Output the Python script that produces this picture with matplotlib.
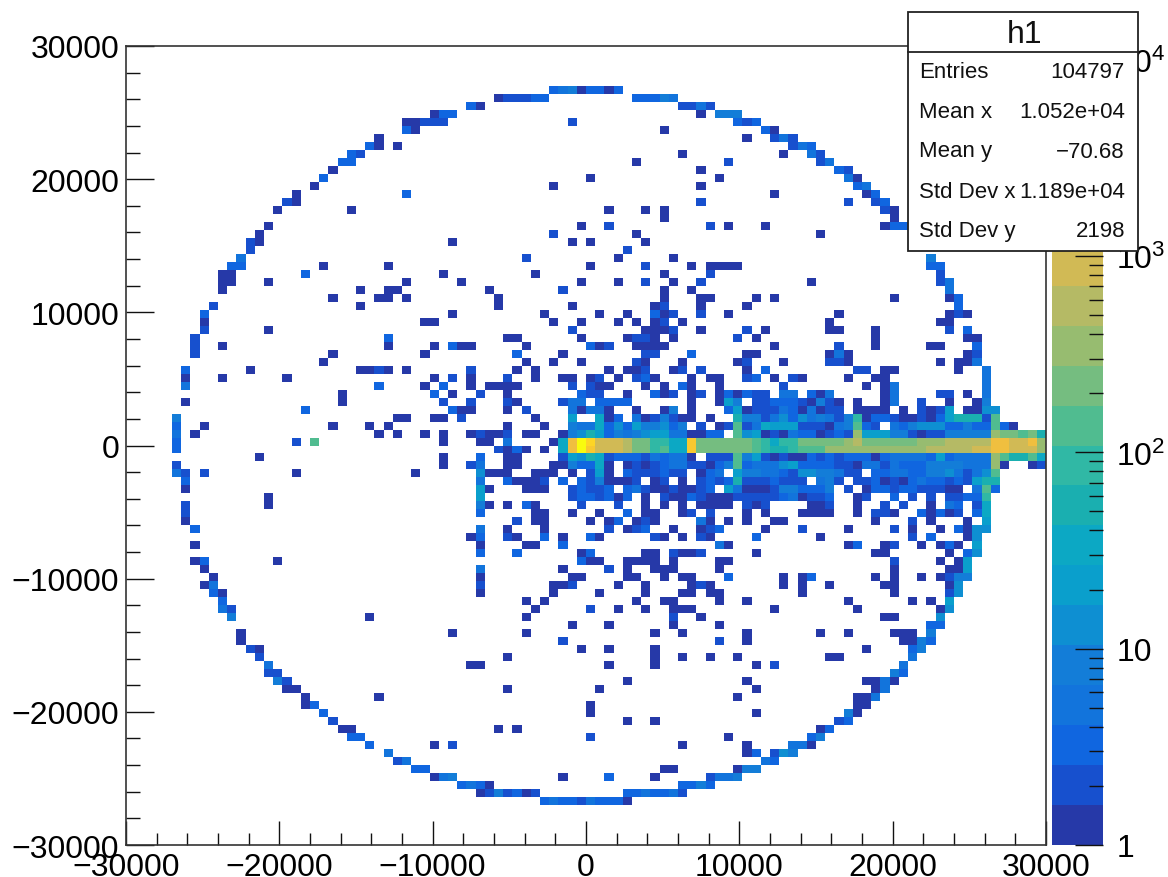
import numpy as np
import matplotlib
matplotlib.use('Agg')
import matplotlib.pyplot as plt
from matplotlib.colors import ListedColormap, BoundaryNorm
from matplotlib.patches import Rectangle

plt.rcParams['font.family'] = ['Liberation Sans', 'DejaVu Sans']
plt.rcParams['mathtext.fontset'] = 'custom'
plt.rcParams['mathtext.rm'] = 'Liberation Sans'

# stats box
stat_names = ['Entries', 'Mean x', 'Mean y', 'Std Dev x', 'Std Dev y']
stat_values = ['104797', '1.052e+04', '\u221270.68', '1.189e+04', '2198']

# 20 contour colours of the palette, bottom to top
band_colors = ['#2639A8', '#1750CE', '#1066E0', '#1274DC', '#137DD8', '#0E8FD2', '#0A9FCC', '#0CA8C4',
               '#1AAFB0', '#30B8A5', '#50BC90', '#75BD80', '#97BC70', '#B5BA65', '#D1BA55', '#F0BF3F',
               '#F8C830', '#FDD525', '#F8E818', '#F9FB0E']
# entries per bin for a cell that falls in each contour band
band_counts = [1, 2, 3, 5, 8, 13, 20, 33, 55, 90, 140, 220, 350, 580, 900, 1500, 2400, 3800, 6000, 10000]

# bins read row by row, row 0 at the top, x bin from the left
# a plain number is a band 1 cell, (bin, band) otherwise
upper_left = {
    6: [40, (41, 2)],
    7: [(37, 3), 38],
    8: [33, (34, 3), (35, 3)],
    9: [30, 31, (32, 2), (33, 2), (34, 2)],
    10: [(30, 3), 31],
    11: [27],
    12: [(26, 3), 27, 29],
    13: [(24, 3), (25, 2)],
    14: [(23, 3), (24, 3)],
    15: [22],
    16: [(21, 3)],
    17: [20],
    18: [18, (30, 3)],
    19: [(17, 2), 18],
    20: [16, 24],
    22: [15],
    23: [14],
    24: [(13, 2), 14, 35],
    25: [(13, 2)],
    26: [(12, 4)],
    27: [(11, 3), (12, 3), 21, 28],
    28: [10, 11, (19, 3), 34],
    29: [10, 11, 15, 30, 36],
    30: [10, 25, 28, 29, 39],
    31: [22, 27, 28, 30, 40],
    32: [(9, 2), 25, 40],
    33: [(8, 3), 35],
    34: [8, 32, 33],
}
upper_mid = {
    5: [(46, 3), (47, 4), (48, 5), 49, (50, 3), (51, 3), 52, (53, 3)],
    6: [(42, 2), (43, 2), (44, 3), (45, 3), (55, 3), (56, 3), (57, 3), (58, 5), (59, 4)],
    7: [(60, 2), (61, 2), (62, 4), (63, 2)],
    8: [62, (64, 5), (65, 5), (66, 5)],
    9: [(48, 2), (66, 3), (67, 2), (68, 3)],
    10: [58, (69, 3), 70],
    11: [67, (70, 2), (71, 4), (72, 2)],
    12: [(72, 2), (73, 4), (74, 3)],
    13: [60, 71, (74, 4), (75, 2)],
    14: [55, (65, 2), (75, 2), (76, 4)],
    15: [62, (77, 3), (78, 2)],
    16: [50, 64, (78, 4), 79],
    17: [46, 62, (79, 3), (80, 4)],
    18: [70, 80, (81, 3)],
    19: [(62, 2), (78, 2), (81, 2), (82, 3)],
    20: [52, 56, 58, (82, 2), 83],
    21: [58, 83],
    22: [49, (52, 2), (63, 2), 65, 69, 82, (83, 3), (84, 3)],
    23: [(46, 2), 55, 75],
    24: [48, 50, 56],
    25: [(54, 2)],
    26: [(43, 2), 53, 59],
    27: [50, (56, 2), 61, 63, 64, 65, 66],
    28: [44, 58, (63, 2)],
    29: [49, 53, (56, 2), 59, (62, 2), 74],
    30: [(47, 2), 58, 61],
    31: [58, 62, 63, 68, 70, 83],
    32: [48, 57, (58, 2), 62, 67],
    33: [45, 51, 54, (57, 3), 58, (59, 2), (62, 2), 65, 77],
    34: [46, 49, 53, 55, 57, (58, 2), 60, 76],
}
left_mid = {
    35: [(8, 2), 15],
    36: [(7, 2), (28, 3), 41],
    37: [(7, 2), 10, 28, 33, (35, 3), 36, 37],
    38: [(7, 2), 22, 32],
    39: [21],
    40: [(6, 3), 13, 25, 26, (27, 2), 28, 30, (37, 2)],
    41: [6, 10, 17, 33, (35, 2), 37, (41, 2)],
    42: [(6, 4), (27, 3), 32, (34, 3), 37, 39, 40, 41],
    43: [23, (33, 3), 35, (38, 2), 41],
    44: [6, 23, (34, 2), (37, 2), (41, 2)],
    45: [(19, 3), (35, 3), 36, 37, 41],
    46: [(5, 5), 29, 30, 33, 34, (36, 2)],
    47: [(5, 3), 8, 22, 26, 28, 41],
    48: [(5, 4), 7, 27, 29, 32, 34, 37, (38, 2), 39, 40, (41, 2)],
    49: [(5, 3), (18, 2), (20, 11), 34, 38, 39, (41, 4)],
    50: [(5, 3), (40, 2), 41],
    51: [14, 34, (38, 3), 41],
    52: [(5, 2), 34, (37, 2), (38, 4), 41],
    53: [(5, 4), (6, 2), (8, 2), 18, 31, (38, 6), 39, 40, 41],
    54: [(6, 3), (38, 4), (41, 3)],
    55: [6, (38, 7), 39],
    56: [15, (38, 7)],
    57: [(6, 2), 15, (38, 5), 39, 41],
    58: [(6, 2), (38, 3)],
    59: [6],
    60: [(7, 3), (38, 4), 41, 45],
    61: [37, (38, 3), (41, 2)],
    62: [7, 38],
    63: [(38, 3)],
    64: [7, (8, 3), 16],
}
core = {
    35: [(48, 2), 56, 57, 58, (59, 2), 62, (67, 2), 69],
    36: [42, 49, 54, (55, 2), (56, 2), 57, 59, (66, 2), 68],
    37: [43, (50, 3), 51, (52, 2), 55, 56, 57, 58, 70],
    38: [(42, 3), 47, (56, 2), (57, 2), (61, 3), 67, 68],
    39: [43, 46, 49, (55, 2), 56, 60, 66, (67, 2), 71],
    40: [42, 44, 52, 54, 55, (56, 2), 59, (60, 2), (62, 2), 67, (69, 3)],
    41: [44, 47, 48, 50, (51, 2), 53, (55, 2), (56, 3), 57, 61, 63, 64, (67, 2), (68, 3), 70],
    42: [42, (48, 2), (50, 2), 51, 52, 56, 58, (60, 3), 61, 64, (71, 2)],
    43: [(49, 3), (50, 2), (51, 2), 54, (57, 3), 58, (59, 2), 61, (62, 2), 64, (65, 3), 66, (67, 3), (68, 2),
         (69, 2), (71, 4)],
    44: [42, (47, 2), (48, 4), (49, 4), (51, 3), (52, 3), (53, 3), (54, 3), 61, 64, (65, 7), (66, 5), (68, 2),
         (69, 2), (70, 3), (71, 5)],
    45: [(43, 2), (48, 4), 49, (50, 4), (51, 4), 52, 55, 58, (59, 5), 61, (65, 3), (66, 7), 67, (68, 2), (69, 2),
         (70, 2), (71, 3)],
    46: [44, (48, 7), (51, 8), 52, (53, 3), (55, 4), 56, (57, 2), (58, 5), (59, 2), 60, 61, 63, (66, 9), (67, 5),
         (68, 5), (69, 2), (70, 4), (71, 4)],
    47: [45, (48, 5), (49, 4), (50, 4), (51, 8), (52, 3), (53, 6), (54, 3), (55, 7), (56, 5), (57, 5), (58, 6),
         (59, 3), (60, 5), (62, 2), 64, (65, 2), (66, 11), (67, 2), (68, 4), (69, 8), (70, 7), (71, 7)],
    48: [43, 44, 47, (48, 5), (49, 6), (50, 9), (51, 7), (52, 3), (53, 5), (54, 4), (55, 5), (56, 6), (57, 7),
         (58, 7), (59, 4), (60, 4), 61, 62, (63, 3), (64, 3), (66, 11), (67, 6), (68, 7), 69, (70, 2), 71],
    49: [46, (47, 8), (48, 16), (49, 20), (50, 18), (51, 15), (52, 15), (53, 15), (54, 14), (55, 12), (56, 12),
         (57, 10), (58, 10), (59, 8), (60, 8), (61, 17), (62, 12), (63, 12), (64, 12), (65, 12), (66, 12), (67, 12),
         (68, 11), (69, 10), (70, 8), (71, 10)],
    50: [(42, 3), 43, 45, (47, 8), (48, 16), (49, 20), (50, 17), (51, 15), (52, 15), (53, 15), (54, 14), (55, 12),
         (56, 12), (57, 10), (58, 11), (59, 8), (60, 8), (61, 17), (62, 12), (63, 12), (64, 12), (65, 12), (66, 12),
         (67, 12), (68, 11), (69, 10), (70, 9), (71, 11)],
    51: [42, (47, 2), (48, 7), (49, 6), (50, 9), (51, 8), (52, 2), (53, 3), (54, 3), (55, 3), (56, 2), (57, 4),
         (58, 3), (59, 4), (60, 4), 61, (63, 2), (64, 2), (65, 2), (66, 11), (67, 5), (68, 7), (69, 2), 70, (71, 2)],
    52: [42, 46, 47, (48, 5), (49, 3), (50, 3), (51, 8), 52, 54, (55, 2), 56, (57, 2), (58, 3), (59, 4), (60, 4),
         (61, 2), (62, 2), 63, (64, 3), (65, 5), (66, 11), (67, 3), (68, 4), (69, 4), (70, 4), (71, 5)],
    53: [44, 45, 46, 48, (50, 2), (51, 7), 52, (54, 3), (55, 2), (56, 2), (57, 2), (58, 3), (59, 2), (60, 2), 62,
         (63, 3), (64, 4), (66, 7), (67, 5), (68, 5), (69, 4), (70, 4), (71, 4)],
    54: [42, 43, 44, (45, 2), (47, 3), (49, 3), (50, 2), (51, 5), 52, 53, 54, (55, 2), 57, (58, 2), 60, (62, 2),
         (63, 3), (64, 2), (65, 3), (66, 9), (67, 2), (68, 2), (69, 2), (70, 3), (71, 3)],
    55: [43, 44, 45, (48, 2), (49, 3), (50, 2), (51, 2), (52, 3), (54, 3), (55, 4), (56, 2), 57, 58, (59, 2), 60,
         61, (62, 2), (63, 3), (65, 7), (66, 4), 67, 68, 69, (70, 2), (71, 2)],
    56: [(48, 2), (49, 3), (50, 3), (51, 2), (52, 3), 53, (54, 3), 56, (58, 2), 59, 60, (61, 3), (62, 2), 63, 64,
         65, (66, 2), (67, 2), (68, 2), (69, 2), (70, 2), (71, 2)],
    57: [(43, 3), 44, (49, 2), (53, 2), 56, 58, 60, 62, 63, 64, 65, (67, 2), 68, (69, 2)],
    58: [44, 45, 48, 51, (54, 3), 56, 57, 60, (61, 2), (63, 2), 67, 69],
    59: [(42, 2), 44, 45, 50, 52, (53, 3), 55, (56, 2), 57, (62, 4), 63, 65, 67, 70, 71],
    60: [45, (52, 2), 54, (55, 2), (56, 3), 59, 62, (63, 2), (64, 3), 69],
    61: [42, (45, 3), 47, (50, 3), 51, (57, 2), 58, 60, (62, 2), 63, (68, 3)],
    62: [43, 44, (47, 3), (64, 4), 65, 78],
    63: [(42, 3), 49, (50, 3)],
    64: [(49, 3), 50, 51],
}
right_side = {
    26: [(87, 5)],
    27: [(87, 3), (88, 3)],
    28: [(88, 2)],
    29: [74, (88, 2), (89, 4)],
    30: [(89, 4)],
    31: [83, 89, (90, 3)],
    32: [(90, 3)],
    33: [77, 89, (90, 2), 91],
    34: [76, 88, 89],
    35: [76, 77, 81, (89, 2), (91, 3)],
    36: [81, 91, 92],
    37: [(77, 2), 81, 87, 88, (92, 3)],
    38: [76, (77, 4), 78, 91, (92, 2)],
    39: [71, (76, 2), (77, 2), 78, 88, 90, 91, (92, 4)],
    40: [(79, 2), (80, 2), 82, 83, 90, (93, 4)],
    41: [(72, 2), 73, 78, 81, 82, (93, 4)],
    42: [(71, 2), 80, 82, (83, 4), (93, 4)],
    43: [(71, 4), (72, 4), (74, 3), 75, (76, 4), 82, (83, 4), (88, 2), (89, 2), 91, (93, 4)],
    44: [(71, 3), (72, 3), (73, 2), 74, (75, 5), (76, 2), 77, 79, 82, (83, 4), (86, 2), 89, 92, (93, 5)],
    45: [(71, 4), (72, 3), 73, (74, 4), 75, (76, 2), (77, 2), 79, 80, 81, 82, 84, (86, 2), 87, (88, 2), (89, 7),
         91, 92, (93, 6), (94, 6)],
    46: [(71, 6), (72, 3), (73, 6), (74, 4), (75, 5), (76, 4), (77, 2), (78, 5), (79, 10), 80, (81, 3), (82, 3),
         (83, 2), 84, 85, (86, 2), 87, (88, 3), (89, 7), (90, 9), (91, 9), (92, 9), (93, 2), (94, 11)],
    47: [(71, 7), (72, 7), (73, 2), (74, 2), (75, 2), 76, (77, 4), (78, 5), (79, 11), (80, 3), (81, 2), (83, 4),
         (84, 3), (85, 5), (86, 6), (87, 6), (88, 6), (89, 3), (90, 3), (91, 5), (92, 3), (93, 3), (94, 11), (95, 3),
         96],
    48: [71, (72, 4), (73, 3), (74, 3), 75, (76, 2), (77, 3), (78, 2), (79, 13), (80, 7), (81, 7), (82, 7), (83, 5),
         (84, 5), (85, 2), 86, (87, 2), (88, 2), (89, 5), (90, 5), (91, 5), (92, 5), (93, 5), (94, 13), (95, 12),
         (96, 12), (97, 11), (98, 12), (99, 9)],
    49: [(71, 10), (72, 10), (73, 12), (74, 12), (75, 12), (76, 12), (77, 12), (78, 13), (79, 14), (80, 12), (81, 12),
         (82, 12), (83, 12), (84, 12), (85, 12), (86, 13), (87, 13), (88, 13), (89, 14), (90, 14), (91, 14), (92, 14),
         (93, 14), (94, 16), (95, 16), (96, 15), (97, 15), (98, 16), (99, 13)],
    50: [(71, 9), (72, 10), (73, 11), (74, 11), (75, 11), (76, 13), (77, 13), (78, 13), (79, 13), (80, 13), (81, 13),
         (82, 13), (83, 13), (84, 13), (85, 13), (86, 13), (87, 14), (88, 14), (89, 14), (90, 14), (91, 14), (92, 15),
         (93, 15), (94, 16), (95, 16), (96, 15), (97, 15), (98, 15), (99, 13)],
    51: [(71, 2), 72, 73, (74, 3), (75, 2), (76, 3), (77, 2), (78, 3), (79, 3), (80, 3), 81, (82, 3), (83, 4), (84, 4),
         (85, 4), (86, 4), (87, 3), (88, 7), (89, 3), (90, 4), (91, 4), (92, 4), (93, 4), (94, 13), (95, 11), (96, 9),
         (97, 9), (98, 11), (99, 8)],
    52: [(71, 6), (72, 7), (73, 3), (74, 3), (75, 3), (76, 3), (77, 2), (78, 2), 79, (80, 4), (81, 4), (82, 2), (83, 4),
         (84, 3), (85, 3), (86, 3), (87, 5), (88, 5), (89, 5), (90, 5), (91, 4), (92, 4), (93, 4), (94, 13), 95, 98,
         (99, 2)],
    53: [(71, 3), (72, 2), (73, 6), (74, 6), (75, 5), (76, 5), (77, 4), (78, 2), (79, 2), (81, 3), (82, 3), (83, 4),
         (84, 4), (85, 3), (86, 3), (87, 5), (88, 5), (89, 6), (90, 4), (91, 2), (92, 4), (93, 6), (94, 11)],
    54: [(71, 2), (72, 2), (73, 2), (75, 4), (76, 5), (77, 2), (79, 2), (80, 2), (81, 3), 82, (83, 2), 84, (85, 3),
         (86, 4), (87, 3), (88, 3), (89, 2), (90, 3), (91, 2), (92, 7), (93, 9), (94, 9)],
    55: [(71, 5), (72, 5), (73, 3), (74, 3), (75, 3), (76, 5), (78, 2), 80, (81, 3), (82, 3), (83, 2), (84, 3), (85, 3),
         (86, 2), (87, 2), (88, 2), 89, 90, (92, 4), (93, 11), (94, 3)],
    56: [(71, 3), (72, 4), 73, (74, 2), (75, 2), (76, 3), 79, (80, 2), (83, 3), (85, 2), (87, 2), (89, 2), (90, 2),
         (91, 3), (92, 3), (93, 10)],
    57: [74, 75, (76, 2), 79, (82, 2), (84, 2), 87, (89, 4), (90, 3), (92, 2), (93, 8)],
    58: [73, 74, 75, 76, 79, (81, 2), (82, 2), 83, (86, 3), 87, (88, 3), 89, (90, 2), (92, 3), (93, 8)],
    59: [71, 81, (85, 2), 87, 91, (93, 7)],
    60: [(73, 2), 78, (83, 2), 85, 88, (90, 3), 91, (92, 6), (93, 6)],
    61: [75, (85, 2), (87, 3), 91, (92, 6)],
    62: [79, 82, (83, 2), 86, 88, (89, 3), 90, (92, 7)],
}
lower_left = {
    64: [(49, 3)],
    65: [8, (38, 4), 47],
    66: [9, 38, 48, 49],
    67: [8, (9, 4), (38, 2), 46, 47, (48, 2)],
    68: [(9, 3), 10, 38, 46],
    69: [(10, 3), 43, 45],
    70: [(10, 4), (11, 2), 44],
    71: [(11, 5), 26, 43],
    72: [48],
    73: [12, 35, 43],
    74: [12, (47, 2)],
    75: [(13, 2), 14, 49],
    76: [(14, 2), 41],
    77: [(15, 4), 37, 38],
    78: [(15, 2), (16, 2)],
    79: [(16, 5), (17, 2)],
    80: [17, 18, 41],
    81: [19, 27],
    82: [19, (20, 3)],
    83: [(21, 3)],
    84: [(22, 2)],
    85: [23, 24, 40, 42],
    86: [(24, 3), (25, 3)],
    87: [(26, 3), 33, (35, 2)],
    88: [(28, 4)],
    89: [(29, 2), (30, 4)],
    90: [(31, 3), (32, 3)],
    91: [33, (34, 4), (35, 5), 47],
    92: [(36, 3), (37, 4), (38, 3), 39],
    93: [38, (39, 2), (40, 5), (41, 2), (42, 3), 43, (44, 2)],
    94: [(45, 3), (46, 4), (47, 3), (48, 3), (49, 2)],
}
lower_right = {
    62: [(64, 4), 65, 78, (79, 3), 82, (83, 2), 86, 88, (89, 3), 90, (92, 7)],
    63: [49, (50, 3), 56, 57, (59, 2), 60, 61, (62, 2), 68, 81, 82, 89, (91, 3), (92, 6)],
    64: [(49, 3), 50, 51, 54, 55, 56, 57, 59, 64, 65, (83, 2), 88, 90, (91, 7)],
    65: [(52, 2), 54, 57, 58, 59, 64, 83, 89, 90, (91, 7)],
    66: [49, 54, 55, 58, 60, 61, (65, 3), 71, 73, (74, 3), 81, 83, 86, 88, (89, 2), (90, 5), (91, 5)],
    67: [53, 56, 61, (62, 2), 63, 71, 73, 76, 82, 83, 89, (90, 6)],
    68: [51, 56, 60, 61, 63, 64, 73, 83, (89, 2), (90, 6)],
    69: [55, 58, 59, 64, 67, 78, 85, 87, (89, 7)],
    70: [(50, 2), 53, 56, 59, 60, 61, 70, 79, 88, (89, 6)],
    71: [(59, 2), 62, 82, 83, (88, 6)],
    72: [52, 59, 64, (87, 3), (88, 3)],
    73: [57, 60, 67, 75, 78, 83, 84, 85, (87, 5)],
    74: [(64, 2), 67, 84, 85, (86, 5), (87, 3)],
    75: [49, 52, 57, 80, (85, 3), (86, 5)],
    76: [57, 60, 63, 66, 76, 77, (85, 4)],
    77: [52, 57, 68, (70, 2), (84, 4)],
    78: [(83, 5), (84, 3)],
    79: [54, 67, 80, 81, (82, 4), 83],
    80: [51, 68, 81, (82, 4)],
    81: [66, 79, 80, (81, 4)],
    82: [50, 79, 80],
    83: [50, 68, (78, 5), 79],
    84: [54, 57, (77, 2), (78, 3)],
    85: [75, (76, 3)],
    86: [(50, 2), 65, (74, 3), (75, 5)],
    87: [60, 67, (72, 4), (73, 4), 74],
    88: [67, (68, 3), (70, 2), (71, 6), (72, 5)],
    89: [(69, 4), (70, 3)],
    90: [58, 59, 66, (67, 5), (68, 5)],
    91: [(52, 3), 57, (63, 2), (64, 4), (65, 4), (66, 5)],
    92: [(60, 3), (61, 3), (62, 5), (63, 3)],
    93: [(54, 3), (55, 3), (56, 4), (57, 3), (58, 3), (59, 4), (60, 2)],
    94: [(49, 2), (50, 4), (51, 3), (52, 3), (53, 3), 54],
}

# ROOT style: 100 x 100 bins over +-30000
x_edges = np.linspace(-30000, 30000, 101)
y_edges = np.linspace(30000, -30000, 101)
contours = np.logspace(0, 4.07, 21)

H = np.full((100, 100), np.nan)
for part in [upper_left, upper_mid, left_mid, core, right_side, lower_left, lower_right]:
    for row, cells in part.items():
        for cell in cells:
            col, band = cell if isinstance(cell, tuple) else (cell, 1)
            H[row, col] = band_counts[band - 1]

W, H_PX = 1168, 878
fig = plt.figure(figsize=(W / 100, H_PX / 100), dpi=100)


def px_axes(left, top, right, bottom, **kw):
    return fig.add_axes([left / W, 1 - bottom / H_PX, (right - left) / W, (bottom - top) / H_PX], **kw)


cmap = ListedColormap(band_colors)
norm = BoundaryNorm(contours, cmap.N)

ax = px_axes(126, 47, 1046, 846)
ax.pcolormesh(x_edges, y_edges, H, cmap=cmap, norm=norm, antialiased=False)
ax.set_xlim(-30000, 30000)
ax.set_ylim(-30000, 30000)
ax.set_xticks(np.arange(-30000, 30001, 10000))
ax.set_yticks(np.arange(-30000, 30001, 10000))
ax.set_xticks(np.arange(-30000, 30001, 2000), minor=True)
ax.set_yticks(np.arange(-30000, 30001, 2000), minor=True)
ax.set_xticklabels([f'{v}'.replace('-', '\u2212') for v in range(-30000, 30001, 10000)])
ax.set_yticklabels([f'{v}'.replace('-', '\u2212') for v in range(-30000, 30001, 10000)])
ax.tick_params(axis='x', which='major', direction='in', length=17.5, width=1.0, labelsize=23, pad=5, color='#111111')
ax.tick_params(axis='x', which='minor', direction='in', length=9, width=1.0, color='#111111')
ax.tick_params(axis='y', which='major', direction='in', length=20, width=1.0, labelsize=23, pad=5, color='#111111')
ax.tick_params(axis='y', which='minor', direction='in', length=10, width=1.0, color='#111111')
for s in ax.spines.values():
    s.set_linewidth(1.2)
    s.set_color('#333333')

# palette on the right
cax = px_axes(1052, 47, 1103, 846)
cax.pcolormesh([0, 1], contours, np.arange(20).reshape(-1, 1), cmap=cmap, vmin=0, vmax=19, antialiased=False)
cax.set_yscale('log')
cax.set_ylim(contours[0], contours[-1])
cax.set_xticks([])
cax.yaxis.tick_right()
cax.set_yticks([1, 10, 100, 1000, 10000])
cax.set_yticklabels(['1', '10', r'$\mathregular{10^{2}}$', r'$\mathregular{10^{3}}$', r'$\mathregular{10^{4}}$'])
cax.set_yticks([m * d for d in [1, 10, 100, 1000] for m in range(2, 10)], minor=True)
cax.tick_params(axis='y', which='major', direction='in', length=20, width=1.0, labelsize=23, pad=9.5, color='#111111')
cax.tick_params(axis='y', which='minor', direction='in', length=10, width=1.0, labelleft=False, labelright=False,
                color='#111111')
for s in cax.spines.values():
    s.set_visible(False)

# stats box, in pixels
over = fig.add_axes([0, 0, 1, 1], zorder=10)
over.set_xlim(0, W)
over.set_ylim(H_PX, 0)
over.axis('off')
over.add_patch(Rectangle((908, 13), 230, 239, fc='white', ec='#222222', lw=1.3))
over.plot([908, 1138], [53, 53], color='#222222', lw=1.3)
over.text(1025, 35, 'h1', ha='center', va='center', fontsize=23, color='#111111')
for name, value, y in zip(stat_names, stat_values, [73, 113, 152, 193, 232]):
    over.text(919, y, name, ha='left', va='center', fontsize=16, color='#111111')
    over.text(1125, y, value, ha='right', va='center', fontsize=16, color='#111111')

fig.savefig('out.png', dpi=100)
